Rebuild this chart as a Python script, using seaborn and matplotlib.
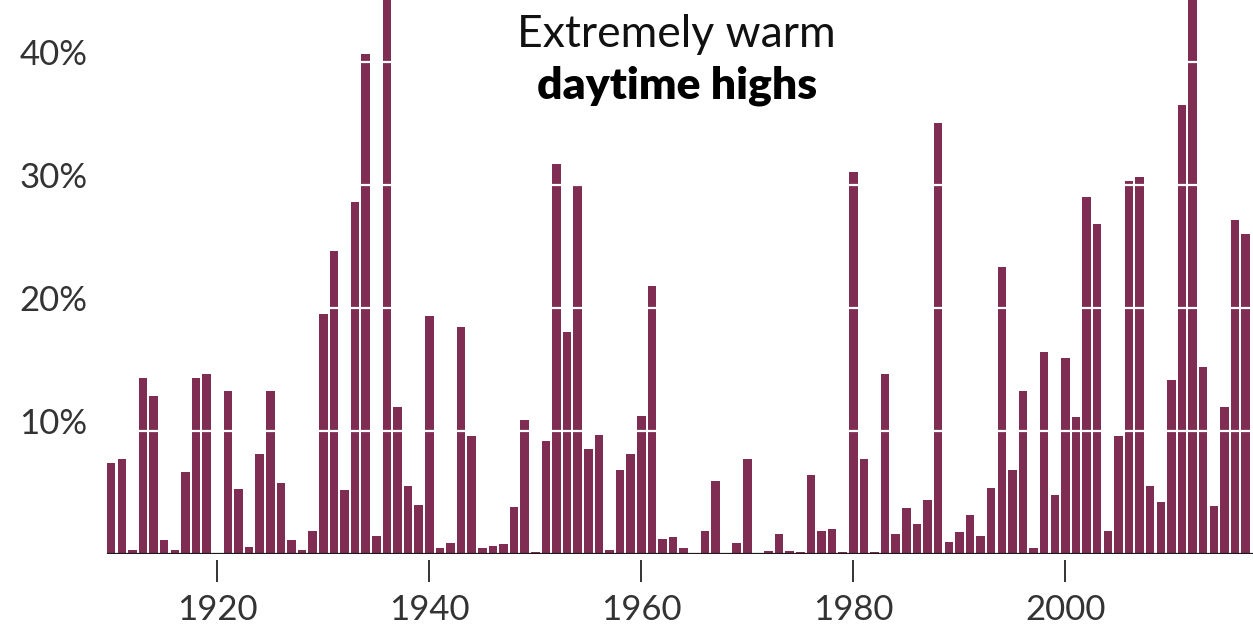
import matplotlib
matplotlib.use("Agg")
import matplotlib.pyplot as plt
import matplotlib.transforms as mtransforms
import numpy as np
import pandas as pd
import seaborn as sns

# Share of the country with extremely warm daytime highs, per year (%)
years = list(range(1910, 2018))
pct_warm = [
    7.4, 7.7, 0.35, 14.3, 12.8, 1.1, 0.35, 6.7, 14.3, 14.6,   # 1910s
    0.05, 13.2, 5.3, 0.6, 8.1, 13.2, 5.8, 1.1, 0.35, 1.9,     # 1920s
    19.5, 24.6, 5.2, 28.6, 40.6, 1.5, 48.0, 11.9, 5.5, 4.0,   # 1930s
    19.3, 0.5, 0.9, 18.4, 9.6, 0.5, 0.67, 0.8, 3.8, 10.9,     # 1940s
    0.15, 9.2, 31.7, 18.0, 29.9, 8.5, 9.7, 0.35, 6.8, 8.1,    # 1950s
    11.2, 21.8, 1.2, 1.4, 0.5, 0.05, 1.9, 5.9, 0.05, 0.9,     # 1960s
    7.7, 0.1, 0.25, 1.6, 0.25, 0.2, 6.4, 1.9, 2.05, 0.2,      # 1970s
    31.0, 7.7, 0.2, 14.6, 1.6, 3.7, 2.4, 4.4, 35.0, 1.0,      # 1980s
    1.8, 3.2, 1.5, 5.4, 23.3, 6.8, 13.2, 0.5, 16.4, 4.8,      # 1990s
    15.9, 11.1, 29.0, 26.8, 1.9, 9.6, 30.3, 30.6, 5.5, 4.2,   # 2000s
    14.1, 36.5, 48.0, 15.2, 3.9, 11.9, 27.1, 26.0,            # 2010s
]
xtick_years = [1920, 1940, 1960, 1980, 2000]
ytick_vals = [10, 20, 30, 40]
ytick_labels = ["10%", "20%", "30%", "40%"]

bar_color = "#7f2d52"
text_color = "#333333"

sns.set_style("white")
plt.rcParams["font.family"] = ["Lato", "DejaVu Sans"]

df = pd.DataFrame({"year": years, "pct": pct_warm})

fig = plt.figure(figsize=(12.53, 6.25), dpi=100)
ax = fig.add_axes([107 / 1253, 71 / 625, 1 - 107 / 1253, 1 - 71 / 625])

sns.barplot(data=df, x="year", y="pct", native_scale=True, color=bar_color,
            saturation=1, width=0.8, linewidth=0, ax=ax)

ax.set_xlim(1909.6, 2017.7)
ax.set_ylim(0, 45)

# white gridlines over the bars
ax.set_axisbelow(False)
ax.yaxis.grid(True, color="white", linewidth=1.6)
ax.xaxis.grid(False)

# baseline
ax.axhline(0, color="#1a1a1a", linewidth=1.6, zorder=4)

for side in ["top", "right", "left"]:
    ax.spines[side].set_visible(False)
ax.spines["bottom"].set_visible(False)
ax.spines["bottom"].set_position(("outward", 4.5))

ax.set_xticks(xtick_years)
ax.set_xticklabels([str(y) for y in xtick_years])
ax.tick_params(axis="x", bottom=True, direction="out", length=16, width=1.4,
               color=text_color, labelsize=25, labelcolor=text_color, pad=8)

ax.set_yticks(ytick_vals)
ax.set_yticklabels(ytick_labels)
ax.tick_params(axis="y", left=False, length=0, labelsize=25,
               labelcolor=text_color, pad=63)
offset = mtransforms.ScaledTranslation(0, 0.1, fig.dpi_scale_trans)
for lab in ax.get_yticklabels():
    lab.set_horizontalalignment("left")
    lab.set_transform(lab.get_transform() + offset)

ax.set_xlabel("")
ax.set_ylabel("")

fig.text(0.540, 1 - 47 / 625, "Extremely warm", ha="center", va="baseline",
         fontsize=32, fontweight="normal", color="#111111")
fig.text(0.540, 1 - 99 / 625, "daytime highs", ha="center", va="baseline",
         fontsize=32, fontweight="heavy", color="#000000")

fig.savefig("out.png", dpi=100)
